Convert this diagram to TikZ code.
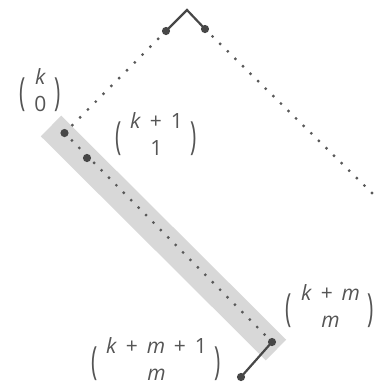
\documentclass[tikz,border=0pt]{standalone}
\usepackage{fontspec}
\setmainfont{Open Sans}
\usepackage{graphicx}
\usetikzlibrary{calc}
\definecolor{cInk}{HTML}{474747}
\definecolor{cDot}{HTML}{585858}
\definecolor{cText}{HTML}{555555}
\definecolor{cBand}{HTML}{D8D8D8}
\newcommand\lpar{\raisebox{-0.34em}{\scalebox{1}[1.85]{(}}}
\newcommand\rpar{\raisebox{-0.34em}{\scalebox{1}[1.85]{)}}}
\newcommand\pl{\hspace{0.42em}+\hspace{0.42em}}
\newcommand\binomlbl[2]{\lpar\hspace{9bp}\begin{tabular}{@{}c@{}}#1\\#2\end{tabular}\hspace{8bp}\rpar}
\tikzset{
  band/.style     = {draw=cBand, line width=29bp},
  link/.style     = {draw=cInk, line width=2.2bp},
  bigdot/.style   = {fill=cInk},
  smalldot/.style = {fill=cDot},
  lbl/.style      = {text=cText, font=\fontsize{21bp}{27bp}\selectfont, inner sep=0pt},
}

\begin{document}
\begin{tikzpicture}[x=1bp, y=-1bp]
  \useasboundingbox (0,0) rectangle (380,389);
  % lattice points
  \coordinate (A)  at (187,10);
  \coordinate (L1) at (166,31);
  \coordinate (R1) at (205,29);
  \coordinate (P0) at (64.5,133);
  \coordinate (P1) at (87,158);
  \coordinate (Pm) at (272,342);
  \coordinate (Q)  at (241,377);
  \coordinate (Re) at (372,193);
  % shaded band
  \coordinate (bandA) at (51,126);
  \coordinate (bandB) at (276,350);
  \draw[band] (bandA) -- (bandB);
  % dotted lines
  \foreach \t in {0,...,13} \fill[smalldot] ($(L1)!\t/13!(P0)$) circle (1.6bp);
  \foreach \t in {0,...,22} \fill[smalldot] ($(R1)!\t/22!(Re)$) circle (1.6bp);
  \foreach \t in {0,...,28} \fill[smalldot] ($(P0)!\t/28!(Pm)$) circle (1.6bp);
  % solid steps
  \draw[link] (L1) -- (A) -- (R1);
  \draw[link] (Pm) -- (Q);
  \foreach \p in {L1,R1,P0,P1,Pm,Q} \fill[bigdot] (\p) circle (4.1bp);
  % labels
  \node[lbl] (b0) at (40,93)   {\binomlbl{\textit{k}}{0}};
  \node[lbl] (b1) at (156,137) {\binomlbl{\textit{k}\pl 1}{1}};
  \node[lbl] (bm) at (330,309) {\binomlbl{\textit{k}\pl\textit{m}}{\textit{m}}};
  \node[lbl] (bq) at (156,362) {\binomlbl{\textit{k}\pl\textit{m}\pl 1}{\textit{m}}};
\end{tikzpicture}
\end{document}
